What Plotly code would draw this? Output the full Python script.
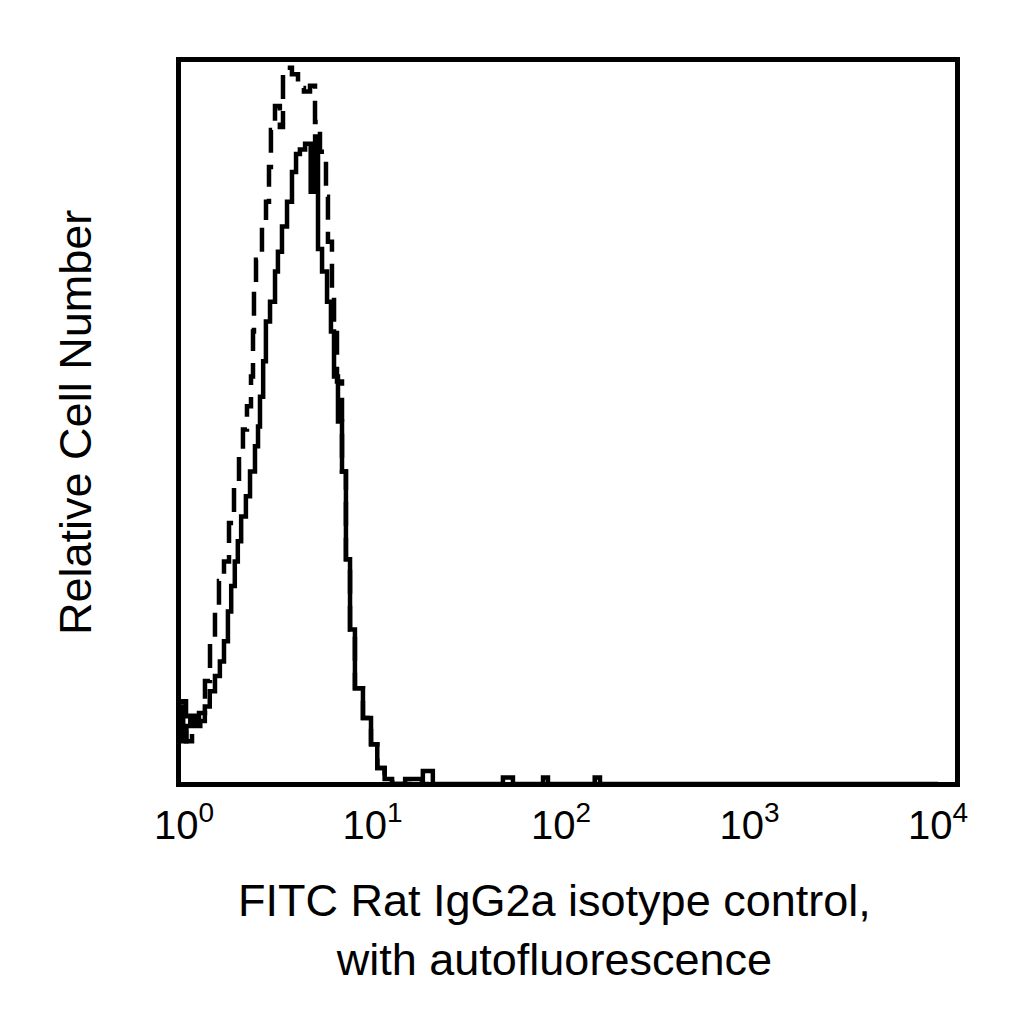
import plotly.graph_objects as go

# Fluorescence intensity (log scale) and relative cell counts
solid_x = [0.93, 0.95, 0.99, 1.03, 1.08, 1.14, 1.22, 1.29, 1.37, 1.46, 1.55, 1.63, 1.71,
           1.78, 1.86, 1.93, 2.01, 2.13, 2.24, 2.38, 2.47, 2.53, 2.63, 2.72, 2.86, 3.04,
           3.15, 3.31, 3.52, 3.74, 3.93, 4.12, 4.39, 4.70, 4.96, 5.14, 5.40, 5.74, 6.02,
           6.25, 6.56, 6.89, 7.23, 7.60, 8.07, 8.90, 9.82, 10.6, 11.6, 12.7, 14.9, 18.3,
           18.5, 20.9, 49.2, 55.6, 80.3, 85.3, 151, 161, 10000]
solid_y = [6.6, 10.7, 5.9, 8.0, 9.4, 8.0, 8.7, 10.7, 12.8, 14.9, 16.9, 19.7, 23.8,
           27.3, 30.7, 33.5, 36.9, 39.7, 43.1, 46.6, 49.3, 53.4, 58.3, 63.8, 66.5, 70.7,
           73.4, 76.9, 80.3, 84.4, 86.9, 87.5, 88.3, 81.7, 89.3, 73.8, 70.7, 66.5, 62.4,
           56.2, 50.0, 43.1, 31.0, 21.3, 13.2, 9.1, 5.5, 2.2, 0.7, 0, 0.7, 0,
           1.8, 0, 0.9, 0, 0.9, 0, 0.9, 0, 0]

dashed_x = [0.93, 0.976, 1.025, 1.103, 1.201, 1.292, 1.374, 1.460, 1.533, 1.630, 1.733,
            1.842, 1.958, 2.055, 2.158, 2.267, 2.323, 2.351, 2.410, 2.592, 2.723, 2.824,
            2.892, 3.039, 3.225, 3.351, 3.738, 4.025, 4.328, 4.661, 4.955, 5.264, 5.665,
            5.803, 6.095, 6.250, 6.481, 6.89, 7.23, 7.60, 8.07, 8.90, 9.82, 10.6, 11.6,
            12.7, 20.0]
dashed_y = [6.6, 11.4, 5.9, 8.4, 9.8, 14.2, 19.7, 23.8, 28.0, 30.7, 36.0,
            41.5, 45.2, 48.9, 52.1, 56.2, 62.4, 67.9, 72.3, 76.9, 80.3, 85.1,
            90.2, 93.5, 90.6, 98.8, 97.9, 96.0, 95.5, 96.3, 91.3, 87.2, 81.0,
            74.8, 67.9, 63.1, 55.5, 43.1, 31.0, 21.3, 13.2, 9.1, 5.5, 2.2, 0.7,
            0, 0]

tick_vals = [1, 10, 100, 1000, 10000]
tick_text = ["10<sup>0</sup>", "10<sup>1</sup>", "10<sup>2</sup>", "10<sup>3</sup>", "10<sup>4</sup>"]

fig = go.Figure()

fig.add_trace(go.Scatter(
    x=dashed_x, y=dashed_y, mode="lines", line_shape="hv",
    line=dict(color="black", width=4.5, dash="24px,12px"),
    showlegend=False
))
fig.add_trace(go.Scatter(
    x=solid_x, y=solid_y, mode="lines", line_shape="hv",
    line=dict(color="black", width=4.5),
    showlegend=False
))

# page body has an 8px margin, so the figure is 1016 px and sits at (8, 8)
fig.update_layout(
    width=1016, height=1016,
    margin=dict(l=173, r=69, t=54, b=242),
    paper_bgcolor="white", plot_bgcolor="white",
    font=dict(family="Liberation Sans, Arial, sans-serif", color="black"),
    xaxis=dict(
        type="log", range=[-0.0159, 4.0902],
        tickvals=tick_vals, ticktext=tick_text,
        showgrid=False, zeroline=False, ticks="",
        showline=True, linecolor="black", linewidth=5, mirror=True,
        tickfont=dict(size=40), ticklabelstandoff=4,
    ),
    yaxis=dict(
        range=[0.28, 99.58], showticklabels=False,
        showgrid=False, zeroline=False, ticks="",
        showline=True, linecolor="black", linewidth=5, mirror=True,
    ),
    annotations=[
        dict(text="FITC Rat IgG2a isotype control,<br>with autofluorescence",
             xref="paper", yref="paper", x=0.483, y=-0.126,
             xanchor="center", yanchor="top", showarrow=False,
             font=dict(size=45)),
        dict(text="Relative Cell Number", textangle=-90,
             xref="paper", yref="paper", x=-0.137, y=0.5,
             xanchor="center", yanchor="middle", showarrow=False,
             font=dict(size=45)),
    ],
)

fig.write_html("out.html")
